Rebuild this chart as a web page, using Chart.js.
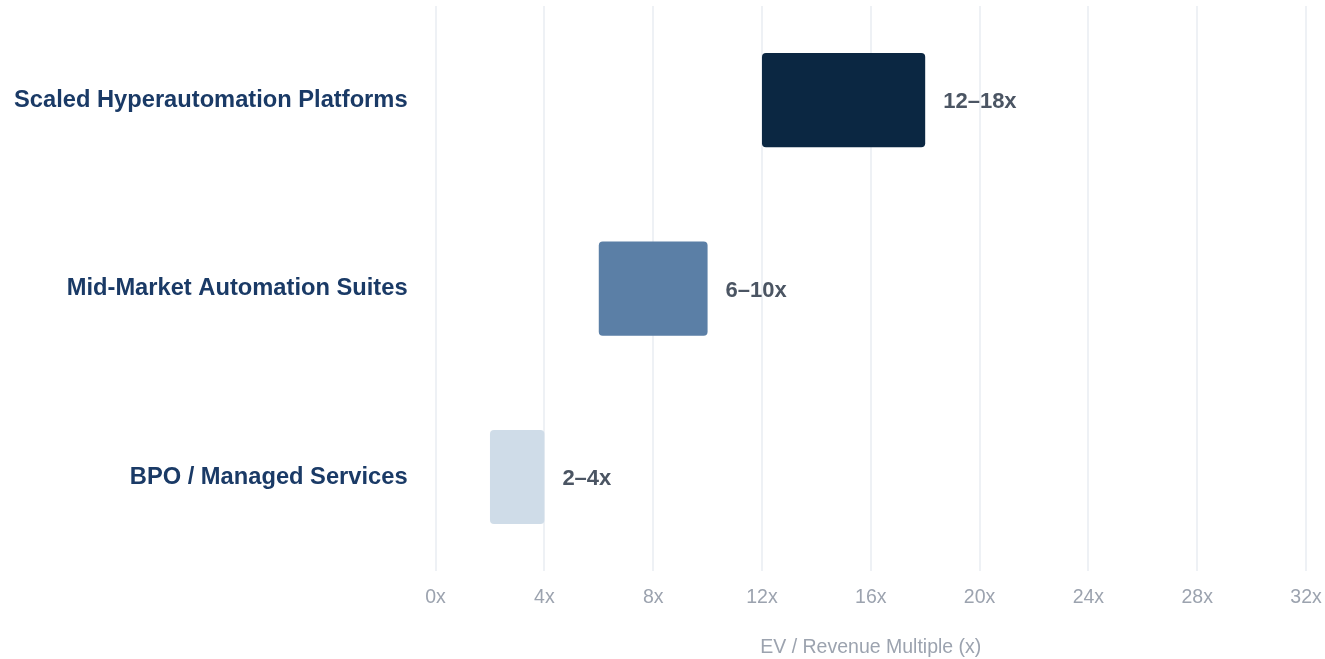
<!DOCTYPE html>
<html>
<head>
<meta charset="utf-8">
<title>EV / Revenue Multiples by Segment</title>
<script src="https://cdn.jsdelivr.net/npm/chart.js@4.4.1/dist/chart.umd.min.js"></script>
<style>
  html, body { margin: 0; padding: 0; background: #ffffff; }
  #wrap { width: 1325px; height: 659px; position: relative; }
</style>
</head>
<body>
<div id="wrap"><canvas id="multiples"></canvas></div>
<script>
// segments and their valuation ranges (EV / revenue)
var segments = ['Scaled Hyperautomation Platforms', 'Mid-Market Automation Suites', 'BPO / Managed Services'];
var lowMultiple = [12, 6, 2];
var highMultiple = [18, 10, 4];
var rangeLabels = ['12\u201318x', '6\u201310x', '2\u20134x'];
var barColors = ['#0b2742', '#5b7fa6', '#cfdce8'];

var rangeData = [];
for (let i = 0; i < segments.length; i++) {
    rangeData.push([lowMultiple[i], highMultiple[i]]);
}

var FONT = '"Liberation Sans", Arial, sans-serif';
var Y_LABEL_GAP = 28;

// write the range text just past the right end of each bar
var rangeTextPlugin = {
    id: 'rangeText',
    afterDatasetsDraw: function(chart) {
        let ctx = chart.ctx;
        let meta = chart.getDatasetMeta(0);
        ctx.save();
        ctx.font = 'bold 22px ' + FONT;
        ctx.fillStyle = '#4b5563';
        ctx.textAlign = 'left';
        ctx.textBaseline = 'middle';
        meta.data.forEach(function(bar, i) {
            ctx.fillText(rangeLabels[i], bar.x + 18, bar.y + 2);
        });
        ctx.restore();
    }
};

var ctx = document.getElementById('multiples').getContext('2d');
var chart = new Chart(ctx, {
    type: 'bar',
    data: {
        labels: segments,
        datasets: [{
            label: 'EV / Revenue',
            data: rangeData,
            backgroundColor: barColors,
            borderRadius: 4,
            borderSkipped: false,
            barPercentage: 0.5,
            categoryPercentage: 1.0
        }]
    },
    options: {
        indexAxis: 'y',
        responsive: true,
        maintainAspectRatio: false,
        animation: false,
        layout: { padding: { top: 6, right: 19, left: 14, bottom: 0 } },
        plugins: {
            legend: { display: false },
            tooltip: { enabled: false }
        },
        scales: {
            x: {
                min: 0,
                max: 32,
                ticks: {
                    stepSize: 4,
                    padding: 15,
                    color: '#9ca3af',
                    font: { family: FONT, size: 19.5 },
                    callback: function(v) { return v + 'x'; }
                },
                grid: { color: '#eef1f5', lineWidth: 2, drawTicks: false },
                border: { display: false },
                title: {
                    display: true,
                    text: 'EV / Revenue Multiple (x)',
                    color: '#9ca3af',
                    font: { family: FONT, size: 19.5 },
                    padding: { top: 11, bottom: 0 }
                },
                // end labels may overhang; the layout padding already leaves room
                afterFit: function(scale) {
                    scale.paddingLeft = 0;
                    scale.paddingRight = 0;
                }
            },
            y: {
                ticks: {
                    padding: Y_LABEL_GAP,
                    color: '#1a3a66',
                    font: { family: FONT, size: 23.7, weight: 'bold' }
                },
                grid: { display: false, drawTicks: false },
                border: { display: false },
                // only keep the gap between labels and bars, nothing above/below or outside
                afterFit: function(scale) {
                    scale.paddingTop = 0;
                    scale.paddingBottom = 0;
                    scale.width -= Y_LABEL_GAP;
                }
            }
        }
    },
    plugins: [rangeTextPlugin]
});
</script>
</body>
</html>
